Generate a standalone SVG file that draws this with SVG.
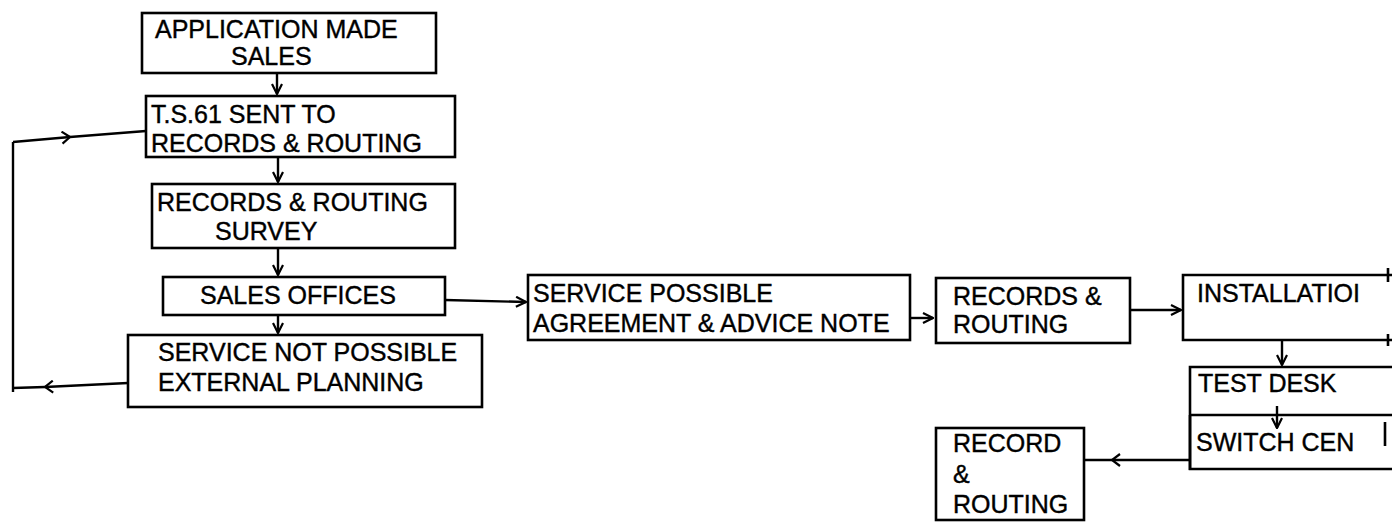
<svg xmlns="http://www.w3.org/2000/svg" width="1394" height="525" viewBox="0 0 1394 525">
<style>
.box{fill:none;stroke:#000;stroke-width:2.6}
.t{font-family:"Liberation Sans",Arial,sans-serif;font-size:25px;fill:#000;stroke:#000;stroke-width:0.4}
.c{fill:none;stroke:#000;stroke-width:2.4}
</style>
<defs>
<marker id="ah" viewBox="0 0 12 12" refX="11" refY="6" markerWidth="12" markerHeight="12" markerUnits="userSpaceOnUse" orient="auto">
<path d="M1,1 L11,6 L1,11" fill="none" stroke="#000" stroke-width="2.2"/>
</marker>
<marker id="am" viewBox="0 0 14 14" refX="10" refY="7" markerWidth="14" markerHeight="14" markerUnits="userSpaceOnUse" orient="auto">
<path d="M2,1 L10,7 L2,13" fill="none" stroke="#000" stroke-width="2.2"/>
</marker>
</defs>
<rect width="1394" height="525" fill="#fff"/>
<g id="connectors">
<path class="c" d="M277,73 L277,94" marker-end="url(#ah)"/>
<path class="c" d="M278,157 L278,182" marker-end="url(#ah)"/>
<path class="c" d="M278,248 L278,275" marker-end="url(#ah)"/>
<path class="c" d="M278,315 L278,333" marker-end="url(#ah)"/>
<path class="c" d="M445,300 L526,302" marker-end="url(#ah)"/>
<path class="c" d="M910,318 L933,318" marker-end="url(#ah)"/>
<path class="c" d="M1130,310 L1181,310" marker-end="url(#ah)"/>
<path class="c" d="M1282,340 L1282,365" marker-end="url(#ah)"/>
<path class="c" d="M1277,406 L1277,428" marker-end="url(#ah)"/>
<path class="c" d="M1190,460 L1112,460 L1085,460" marker-mid="url(#am)"/>
<path class="c" d="M128,383 L45,387 L13,388" marker-mid="url(#am)"/>
<path class="c" d="M13,392 L13,142"/>
<path class="c" d="M13,142 L70,137 L146,131" marker-mid="url(#am)"/>
</g>
<g id="n1">
<rect class="box" x="142" y="13" width="294" height="60"/>
<text class="t" x="155" y="38">APPLICATION MADE</text>
<text class="t" x="231" y="65">SALES</text>
</g>
<g id="n2">
<rect class="box" x="146" y="96" width="309" height="61"/>
<text class="t" x="151" y="123">T.S.61 SENT TO</text>
<text class="t" x="151" y="152">RECORDS &amp; ROUTING</text>
</g>
<g id="n3">
<rect class="box" x="152" y="184" width="303" height="64"/>
<text class="t" x="157" y="211">RECORDS &amp; ROUTING</text>
<text class="t" x="215" y="240">SURVEY</text>
</g>
<g id="n4">
<rect class="box" x="163" y="277" width="282" height="38"/>
<text class="t" x="200" y="304">SALES OFFICES</text>
</g>
<g id="n5">
<rect class="box" x="128" y="335" width="354" height="72"/>
<text class="t" x="158" y="361">SERVICE NOT POSSIBLE</text>
<text class="t" x="158" y="391">EXTERNAL PLANNING</text>
</g>
<g id="n6">
<rect class="box" x="528" y="275" width="382" height="65"/>
<text class="t" x="533" y="302">SERVICE POSSIBLE</text>
<text class="t" x="533" y="332">AGREEMENT &amp; ADVICE NOTE</text>
</g>
<g id="n7">
<rect class="box" x="936" y="278" width="194" height="65"/>
<text class="t" x="953" y="305">RECORDS &amp;</text>
<text class="t" x="953" y="333">ROUTING</text>
</g>
<g id="n8">
<path class="box" d="M1392,275 L1183,275 L1183,340 L1392,340 M1388,268 L1388,282 M1388,334 L1388,346"/>
<text class="t" x="1197" y="302">INSTALLATIOI</text>
</g>
<g id="n9">
<path class="box" d="M1392,367 L1190,367 L1190,470 M1190,415 L1392,415"/>
<text class="t" x="1198" y="392">TEST DESK</text>
</g>
<g id="n10">
<path class="box" d="M1190,415 L1190,469 L1392,469 M1385,422 L1385,446"/>
<text class="t" x="1196" y="451">SWITCH CEN</text>
</g>
<g id="n11">
<rect class="box" x="936" y="428" width="148" height="92"/>
<text class="t" x="953" y="452">RECORD</text>
<text class="t" x="953" y="483">&amp;</text>
<text class="t" x="953" y="513">ROUTING</text>
</g>
</svg>
